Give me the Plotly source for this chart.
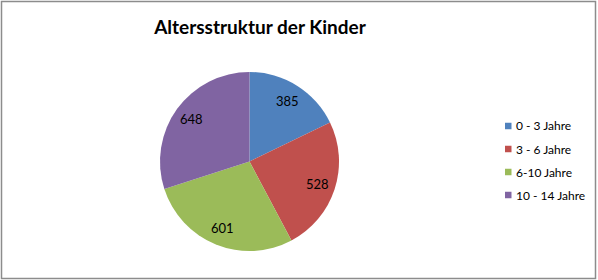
import math
import plotly.graph_objects as go

categories = ["0 - 3 Jahre", "3 - 6 Jahre", "6-10 Jahre", "10 - 14 Jahre"]
values = [385, 528, 601, 648]
colors = ["#4F81BD", "#C0504D", "#9BBB59", "#8064A2"]

W, H = 598, 280
cx, cy, r = 249.5, 161.5, 89.5
FONT = "Lato, sans-serif"

fig = go.Figure()
fig.add_trace(go.Pie(
    labels=categories,
    values=values,
    sort=False,
    direction="clockwise",
    rotation=0,
    marker=dict(colors=colors, line=dict(color="white", width=0)),
    textinfo="none",
    showlegend=False,
    domain=dict(x=[(cx - r) / W, (cx + r) / W], y=[(H - cy - r) / H, (H - cy + r) / H]),
    hoverinfo="label+value",
))

# data labels at 0.8 r along each slice's mid-angle
total = sum(values)
annotations = []
cum = 0
for v in values:
    mid = (cum + v / 2) / total * 2 * math.pi
    cum += v
    px = cx + 0.8 * r * math.sin(mid)
    py = cy - 0.8 * r * math.cos(mid)
    annotations.append(dict(
        x=px / W, y=1 - py / H, xref="paper", yref="paper",
        text=str(v), showarrow=False, xanchor="center", yanchor="middle",
        font=dict(family=FONT, size=13, color="black"),
    ))

# legend (Excel style: small square + label)
shapes = []
leg_x, leg_y0, leg_dy, sq = 505, 126, 23, 6.5
for i, (c, col) in enumerate(zip(categories, colors)):
    yc = leg_y0 + i * leg_dy
    shapes.append(dict(type="rect", xref="paper", yref="paper",
                       x0=leg_x / W, x1=(leg_x + sq) / W,
                       y0=1 - (yc + sq / 2) / H, y1=1 - (yc - sq / 2) / H,
                       fillcolor=col, line=dict(width=0)))
    annotations.append(dict(
        x=(leg_x + sq + 2.5) / W, y=1 - yc / H, xref="paper", yref="paper",
        text=c, showarrow=False, xanchor="left", yanchor="middle",
        font=dict(family=FONT, size=12, color="black"),
    ))

shapes.append(dict(type="rect", xref="paper", yref="paper", x0=1.5 / W, x1=1 - 2.5 / W,
                   y0=1.5 / H, y1=1 - 1.5 / H, line=dict(color="#8c8c8c", width=1.5)))

fig.update_layout(
    width=W, height=H,
    margin=dict(l=0, r=0, t=0, b=0, autoexpand=False),
    paper_bgcolor="white",
    plot_bgcolor="white",
    title=dict(text="<b>Altersstruktur der Kinder</b>", x=260 / W, xanchor="center",
               y=1 - 27 / H, yanchor="middle",
               font=dict(family=FONT, size=19, color="black")),
    annotations=annotations,
    shapes=shapes,
    showlegend=False,
)

fig.write_html("out.html")
